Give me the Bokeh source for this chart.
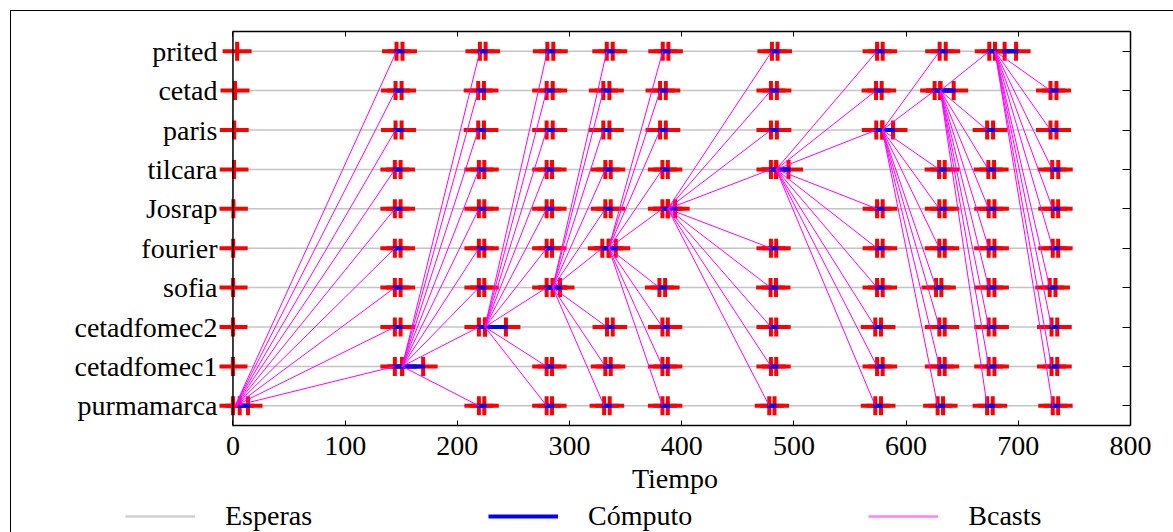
import math
from bokeh.plotting import figure
from bokeh.layouts import column
from bokeh.models import (Range1d, LinearAxis, Legend, LegendItem, FixedTicker, Span)
from bokeh.embed import file_html
from bokeh.resources import INLINE

# ---------------- data ----------------
procesos = ["purmamarca", "cetadfomec1", "cetadfomec2", "sofia", "fourier",
            "Josrap", "tilcara", "paris", "cetad", "prited"]

# start mark of each process
inicio = [0.0, 0.0, 0.0, 0.1, 0.2, 0.4, 0.9, 1.1, 1.8, 3.7]

# compute intervals per round (11 rounds); None = no activity in that round
r_purmamarca = [[(6.0, 13.4)], None, [(219.2, 224.0)], [(279.6, 284.4)], [(330.8, 335.8)],
                [(382.8, 387.6)], [(478.0, 482.7)], [(572.5, 577.6)], [(628.1, 632.9)],
                [(672.2, 677.2)], [(730.7, 735.5)]]
r_cetadfomec1 = [None, [(144.3, 150.8), (150.8, 169.5)], None, [(279.6, 284.4)], [(331.9, 336.7)],
                 [(382.8, 387.6)], [(479.5, 484.2)], [(574.1, 579.1)], [(629.6, 634.4)],
                 [(673.6, 678.7)], [(729.6, 734.7)]]
r_cetadfomec2 = [None, [(144.3, 149.4)], [(219.2, 224.6), (224.6, 243.3)], None, [(333.4, 338.5)],
                 [(382.8, 387.6)], [(479.5, 484.2)], [(572.5, 577.6)], [(629.6, 634.4)],
                 [(673.6, 678.7)], [(729.6, 734.7)]]
r_sofia = [None, [(144.3, 149.4)], [(219.2, 224.0)], [(279.6, 285.0), (285.0, 291.5)], None,
           [(380.1, 385.2)], [(479.2, 484.0)], [(574.1, 579.1)], [(626.7, 631.4)],
           [(673.6, 678.7)], [(728.0, 733.1)]]
r_fourier = [None, [(144.3, 149.4)], [(219.2, 224.0)], [(279.6, 284.4)],
             [(329.2, 334.9), (334.9, 341.2)], None, [(479.5, 484.2)], [(574.1, 579.1)],
             [(629.6, 634.4)], [(673.6, 678.7)], [(730.7, 735.5)]]
r_josrap = [None, [(144.3, 149.4)], [(219.2, 224.0)], [(279.6, 284.4)], [(331.9, 336.7)],
            [(382.8, 387.6), (387.6, 394.1)], None, [(574.1, 579.1)], [(629.6, 634.4)],
            [(673.6, 678.7)], [(730.7, 735.5)]]
r_tilcara = [None, [(144.3, 149.4)], [(219.2, 224.0)], [(279.6, 284.4)], [(331.9, 336.7)],
             [(382.8, 387.6)], [(479.5, 484.2), (484.2, 495.2)], None, [(629.4, 634.4)],
             [(673.3, 678.4)], [(730.2, 735.6)]]
r_paris = [None, [(144.9, 150.3)], [(218.6, 223.7)], [(279.6, 285.0)], [(330.1, 335.5)],
           [(380.7, 385.8)], [(479.5, 484.8)], [(573.4, 578.8), (578.8, 588.3)], None,
           [(672.2, 677.5)], [(728.7, 734.0)]]
r_cetad = [None, [(144.9, 150.3)], [(218.6, 223.7)], [(279.6, 285.0)], [(330.1, 335.5)],
           [(380.7, 385.8)], [(479.5, 484.8)], [(573.2, 578.2)], [(625.4, 630.5), (630.5, 642.4)],
           None, [(728.7, 734.0)]]
r_prited = [None, [(145.8, 151.1)], [(220.1, 225.2)], [(280.2, 285.5)], [(333.2, 338.5)],
            [(383.1, 388.1)], [(480.4, 485.4)], [(574.1, 579.1)], [(629.9, 635.3)],
            [(674.1, 679.2), (687.8, 698.0)], None]

# broadcaster of each round and time of the broadcast
emisores = ["purmamarca", "cetadfomec1", "cetadfomec2", "sofia", "fourier",
            "Josrap", "tilcara", "paris", "cetad", "prited"]
t_envio = [2.0, 150.8, 224.6, 285.0, 334.9, 387.6, 484.2, 578.8, 630.5, 679.2]

x_ticks = [0, 100, 200, 300, 400, 500, 600, 700, 800]
leyenda = ["Esperas", "Cómputo", "Bcasts"]

rondas = [r_purmamarca, r_cetadfomec1, r_cetadfomec2, r_sofia, r_fourier,
          r_josrap, r_tilcara, r_paris, r_cetad, r_prited]

# ---------------- derived glyph columns (rows mapped to 0..9) ----------------
fila = {name: i for i, name in enumerate(procesos)}
filas = [fila[n] for n in procesos]

px, py = list(inicio), list(filas)
ca, cb, cy = [], [], []
for proc, rows in zip(procesos, rondas):
    for col in rows:
        if col is None:
            continue
        for (a, b) in col:
            px += [a, b]
            py += [fila[proc], fila[proc]]
            ca.append(a); cb.append(b); cy.append(fila[proc])

fin = [max(b for col in rows if col for (_, b) in col) for rows in rondas]

bx0, by0, bx1, by1 = [], [], [], []
for k, (em, te) in enumerate(zip(emisores, t_envio)):
    for proc, rows in zip(procesos, rondas):
        col = rows[k + 1]
        if proc == em or col is None:
            continue
        bx0.append(te); by0.append(fila[em]); bx1.append(col[0][0]); by1.append(fila[proc])

# ---------------- styles ----------------
FONT = "Liberation Serif"
FS = "28px"
C_ESP, W_ESP = "#c4c4c4", 1.5
C_COMP, W_COMP = "#0000ff", 4
C_BC, W_BC = "#ff00ff", 1

W = 1162
H_MAIN, H_LEG = 486, 35

# ---------------- main figure ----------------
p = figure(width=W, height=H_MAIN, x_range=Range1d(-12, 800),
           y_range=Range1d(-0.5, len(procesos) - 0.5),
           output_backend="svg", toolbar_location=None,
           min_border_left=208, min_border_right=43, min_border_top=20, min_border_bottom=72,
           x_axis_label="Tiempo")
p.background_fill_color = "white"
p.border_fill_color = "white"
p.outline_line_color = None
p.xgrid.visible = False
p.ygrid.visible = False

p.segment(x0=inicio, y0=filas, x1=fin, y1=filas, line_color=C_ESP, line_width=W_ESP)
p.scatter(x=px, y=py, marker="dash", size=29, line_color="#ff0000", line_width=4)
p.scatter(x=px, y=py, marker="dash", size=19, angle=math.pi / 2,
          line_color="#ff0000", line_width=4)
p.segment(x0=ca, y0=cy, x1=cb, y1=cy, line_color=C_COMP, line_width=W_COMP, line_cap="square")
p.segment(x0=bx0, y0=by0, x1=bx1, y1=by1, line_color=C_BC, line_width=W_BC)

# left frame line at t = 0
p.add_layout(Span(location=0, dimension="height", line_color="black", line_width=1.5))

def style_axis(ax):
    ax.axis_line_color = "black"
    ax.axis_line_width = 1.5
    ax.major_tick_line_color = "black"
    ax.major_tick_out = 0
    ax.minor_tick_in = 0
    ax.minor_tick_out = 0
    ax.major_label_text_font = FONT
    ax.major_label_text_font_size = FS
    ax.major_label_text_color = "black"
    ax.axis_label_text_font = FONT
    ax.axis_label_text_font_size = FS
    ax.axis_label_text_font_style = "normal"
    ax.axis_label_text_color = "black"

xa = p.xaxis[0]
style_axis(xa)
xa.ticker = FixedTicker(ticks=x_ticks)
xa.bounds = (0, 800)
xa.major_tick_in = 5
xa.major_label_standoff = 11
xa.axis_label_standoff = 5

ya = p.yaxis[0]
style_axis(ya)
ya.ticker = FixedTicker(ticks=filas)
ya.major_label_overrides = {i: n for n, i in fila.items()}
ya.axis_line_color = None
ya.major_tick_in = 0
ya.major_label_standoff = 2

top = LinearAxis(ticker=FixedTicker(ticks=x_ticks), bounds=(0, 800),
                 major_label_overrides={t: "" for t in x_ticks})
style_axis(top)
top.major_tick_in = 5
p.add_layout(top, "above")

right = LinearAxis(ticker=FixedTicker(ticks=filas),
                   major_label_overrides={i: "" for i in filas})
style_axis(right)
right.major_tick_in = 8
p.add_layout(right, "right")

# ---------------- legend strip ----------------
lf = figure(width=W, height=H_LEG, x_range=Range1d(0, 1), y_range=Range1d(0, 1),
            output_backend="svg", toolbar_location=None,
            min_border=0, min_border_left=0, min_border_right=0,
            min_border_top=0, min_border_bottom=0)
lf.frame_align = False
lf.axis.visible = False
lf.grid.visible = False
lf.outline_line_color = None
lf.background_fill_color = "white"
lf.border_fill_color = "white"
nan = [float("nan")]
g_esp = lf.segment(x0=nan, y0=nan, x1=nan, y1=nan, line_color="#d0d0d0", line_width=2.5)
g_comp = lf.segment(x0=nan, y0=nan, x1=nan, y1=nan, line_color=C_COMP, line_width=W_COMP)
g_bc = lf.segment(x0=nan, y0=nan, x1=nan, y1=nan, line_color="#ff80ff", line_width=2.5)
legend = Legend(items=[LegendItem(label=leyenda[0], renderers=[g_esp]),
                       LegendItem(label=leyenda[1], renderers=[g_comp]),
                       LegendItem(label=leyenda[2], renderers=[g_bc])],
                orientation="horizontal", location=(114, 0),
                glyph_width=70, glyph_height=20, label_standoff=30, spacing=176,
                padding=0, margin=0, border_line_color=None, background_fill_alpha=0,
                label_text_font=FONT, label_text_font_size=FS, label_text_color="black")
lf.add_layout(legend, "center")

layout = column(p, lf, spacing=0,
                styles={"margin-left": "10px", "margin-top": "10px",
                        "border-left": "1px solid black", "border-top": "1px solid black"})

open("out.html", "w").write(file_html(layout, INLINE))
